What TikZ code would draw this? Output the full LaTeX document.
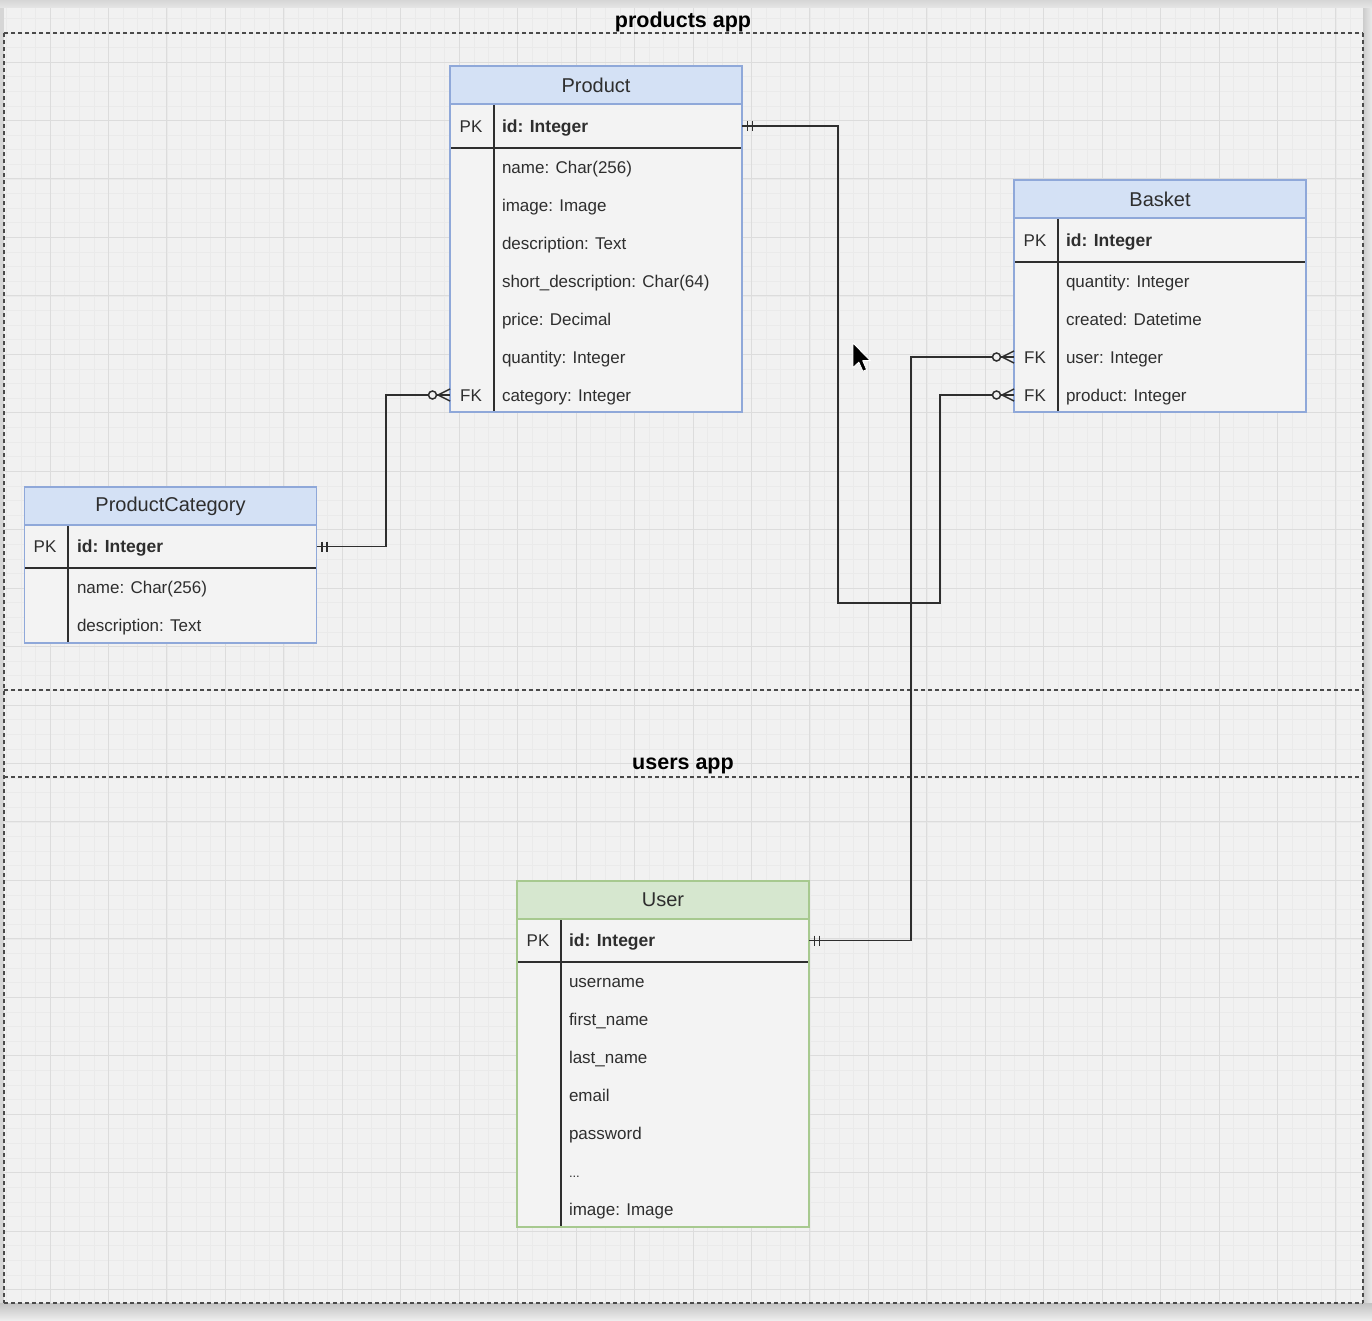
\documentclass[tikz,border=0pt]{standalone}
\usepackage{fontspec}
\setmainfont{Liberation Sans}
\usetikzlibrary{calc}

\definecolor{pagebg}{HTML}{F1F1F1}
\definecolor{gridmaj}{HTML}{DCDCDC}
\definecolor{gridmin}{HTML}{EAEAEA}
\definecolor{inkc}{HTML}{2E2E2E}
\definecolor{dashc}{HTML}{4A4A4A}
\definecolor{bluefill}{HTML}{D4E1F5}
\definecolor{bluestroke}{HTML}{8FA8D9}
\definecolor{greenfill}{HTML}{D6E7CF}
\definecolor{greenstroke}{HTML}{A7C98F}
\definecolor{bodyfill}{HTML}{F3F3F3}

\tikzset{
  every node/.style={inner sep=0pt, outer sep=0pt, text=inkc},
  fieldtxt/.style={anchor=base west, yshift=-6.4pt, font=\fontsize{17}{20}\selectfont},
  keytxt/.style={anchor=base, yshift=-6.4pt, font=\fontsize{17}{20}\selectfont},
  pktxt/.style={anchor=base west, yshift=-6.4pt, font=\fontsize{17.5}{20}\selectfont\bfseries},
  headtxt/.style={font=\fontsize{20}{24}\selectfont},
  apptitle/.style={font=\fontsize{21.5}{24}\selectfont\bfseries, text=black},
  band/.style={minimum width=292pt, minimum height=38pt, anchor=center},
  tableedge/.style={draw=#1, line width=1.3pt},
  divline/.style={draw=inkc, line width=1.2pt},
  conn/.style={draw=inkc, line width=1.5pt},
  appedge/.style={draw=dashc, line width=1.4pt, dash pattern=on 4pt off 3pt},
}

% crow's foot with ring (zero or many), drawn left of a west anchor
\newcommand{\zeroOrMany}[1]{%
  \draw[conn] ([xshift=-12pt]#1) -- ([yshift=6pt]#1)
              ([xshift=-12pt]#1) -- ([yshift=-6pt]#1);
  \draw[conn, fill=pagebg] ([xshift=-17.5pt]#1) circle[radius=4pt];}
% double bar (one and only one), drawn right of an east anchor
\newcommand{\oneOnly}[1]{%
  \draw[conn] ([xshift=5.5pt,yshift=5pt]#1) -- ([xshift=5.5pt,yshift=-5pt]#1)
              ([xshift=10.5pt,yshift=5pt]#1) -- ([xshift=10.5pt,yshift=-5pt]#1);}

\begin{document}
\begin{tikzpicture}[x=1pt, y=-1pt]
\useasboundingbox (0,0) rectangle (1372,1320);

% ---------- canvas ----------
\fill[white!91!black] (0,0) rectangle (1372,1320);
\shade[top color=white!84!black, bottom color=white!92!black] (0,0) rectangle (1372,10);
\shade[left color=white!80!black, right color=white!92!black] (1363,8) rectangle (1372,1320);
\shade[top color=white!76!black, bottom color=white!93!black] (0,1303) rectangle (1372,1320);
\fill[white!84!black] (0,8) rectangle (4,1303);

\begin{scope}
  \clip (4,8) rectangle (1363,1303);
  \fill[pagebg] (4,8) rectangle (1363,1303);
  \foreach \i in {0,...,95} \draw[gridmin, line width=0.5pt] ({-8.45+\i*14.6125},8) -- ++(0,1295);
  \foreach \i in {0,...,90} \draw[gridmin, line width=0.5pt] (4,{3.55+\i*14.6125}) -- ++(1359,0);
  \foreach \i in {0,...,24} \draw[gridmaj, line width=0.9pt] ({-8.45+\i*58.45},8) -- ++(0,1295);
  \foreach \i in {0,...,22} \draw[gridmaj, line width=0.9pt] (4,{3.55+\i*58.45}) -- ++(1359,0);
\end{scope}

% ---------- app containers ----------
\draw[appedge] (4,33) -- (1363,33);
\draw[appedge] (4,690) -- (1363,690);
\draw[appedge] (4,777) -- (1363,777);
\draw[appedge] (4,1303) -- (1363,1303);
\draw[appedge] (4,33) -- (4,1303);
\draw[appedge] (1363,33) -- (1363,1303);
\node[apptitle] (prodApp) at (683,22) {products app};
\node[apptitle] (userApp) at (683,766) {users app};

% ---------- Product ----------
\fill[bodyfill] (450,104) rectangle (742,412);
\node[band, fill=bluefill, headtxt] (prodHead) at (596,85) {Product};
\node[band, minimum height=44pt] (prodPK) at (596,126) {};
\node[band] (prodCatRow) at (596,395) {};
\draw[divline] (prodPK.south west) -- (prodPK.south east);
\draw[divline] (494,104) -- (494,412);
\draw[tableedge=bluestroke] (450,66) rectangle (742,412);
\draw[tableedge=bluestroke] (prodHead.south west) -- (prodHead.south east);
\node[keytxt] (prodPKk) at (471,126) {PK};
\node[pktxt] (prodId) at (502,126) {id: Integer};
\node[fieldtxt] (prodName) at (502,167) {name: Char(256)};
\node[fieldtxt] (prodImage) at (502,205) {image: Image};
\node[fieldtxt] (prodDesc) at (502,243) {description: Text};
\node[fieldtxt] (prodShort) at (502,281) {short\_description: Char(64)};
\node[fieldtxt] (prodPrice) at (502,319) {price: Decimal};
\node[fieldtxt] (prodQty) at (502,357) {quantity: Integer};
\node[keytxt] (prodFKk) at (471,395) {FK};
\node[fieldtxt] (prodCat) at (502,395) {category: Integer};

% ---------- ProductCategory ----------
\fill[bodyfill] (24.5,525) rectangle (316.5,643);
\node[band, fill=bluefill, headtxt] (catHead) at (170.5,506) {ProductCategory};
\node[band, minimum height=43pt] (catPK) at (170.5,546.5) {};
\draw[divline] (catPK.south west) -- (catPK.south east);
\draw[divline] (68,525) -- (68,643);
\draw[tableedge=bluestroke] (24.5,487) rectangle (316.5,643);
\draw[tableedge=bluestroke] (catHead.south west) -- (catHead.south east);
\node[keytxt] (catPKk) at (45,546) {PK};
\node[pktxt] (catId) at (77,546) {id: Integer};
\node[fieldtxt] (catName) at (77,587) {name: Char(256)};
\node[fieldtxt] (catDesc) at (77,625) {description: Text};

% ---------- Basket ----------
\fill[bodyfill] (1014,218) rectangle (1306,412);
\node[band, fill=bluefill, headtxt] (basHead) at (1160,199) {Basket};
\node[band, minimum height=44pt] (basPK) at (1160,240) {};
\node[band] (basUserRow) at (1160,357) {};
\node[band] (basProdRow) at (1160,395) {};
\draw[divline] (basPK.south west) -- (basPK.south east);
\draw[divline] (1058,218) -- (1058,412);
\draw[tableedge=bluestroke] (1014,180) rectangle (1306,412);
\draw[tableedge=bluestroke] (basHead.south west) -- (basHead.south east);
\node[keytxt] (basPKk) at (1035,240) {PK};
\node[pktxt] (basId) at (1066,240) {id: Integer};
\node[fieldtxt] (basQty) at (1066,281) {quantity: Integer};
\node[fieldtxt] (basCreated) at (1066,319) {created: Datetime};
\node[keytxt] (basFKu) at (1035,357) {FK};
\node[fieldtxt] (basUser) at (1066,357) {user: Integer};
\node[keytxt] (basFKp) at (1035,395) {FK};
\node[fieldtxt] (basProd) at (1066,395) {product: Integer};

% ---------- User ----------
\fill[bodyfill] (517,919) rectangle (809,1227);
\node[band, fill=greenfill, headtxt] (userHead) at (663,900) {User};
\node[band, minimum height=43pt] (userPK) at (663,940.5) {};
\draw[divline] (userPK.south west) -- (userPK.south east);
\draw[divline] (561,919) -- (561,1227);
\draw[tableedge=greenstroke] (517,881) rectangle (809,1227);
\draw[tableedge=greenstroke] (userHead.south west) -- (userHead.south east);
\node[keytxt] (userPKk) at (538,940) {PK};
\node[pktxt] (userId) at (569,940) {id: Integer};
\node[fieldtxt] (userName) at (569,981) {username};
\node[fieldtxt] (userFirst) at (569,1019) {first\_name};
\node[fieldtxt] (userLast) at (569,1057) {last\_name};
\node[fieldtxt] (userEmail) at (569,1095) {email};
\node[fieldtxt] (userPass) at (569,1133) {password};
\node[fieldtxt, font=\fontsize{13}{14}\selectfont] (userMore) at (569,1171) {...};
\node[fieldtxt] (userImage) at (569,1209) {image: Image};

% ---------- relations ----------
\coordinate (pb1) at (838,603);
\coordinate (pb2) at (940,395);
\draw[conn] (prodPK.east) -| (pb1) -| (pb2) -- (basProdRow.west);

\coordinate (ub1) at (911,357);
\draw[conn] (userPK.east) -| (ub1) -- (basUserRow.west);

\coordinate (cp1) at (386,395);
\draw[conn] (catPK.east) -| (cp1) -- (prodCatRow.west);

\oneOnly{prodPK.east}
\oneOnly{userPK.east}
\oneOnly{catPK.east}
\zeroOrMany{basProdRow.west}
\zeroOrMany{basUserRow.west}
\zeroOrMany{prodCatRow.west}

% ---------- pointer ----------
\begin{scope}[shift={(853,343)}, scale=1.45]
  \filldraw[fill=black, draw=white, line width=0.9pt, line join=round]
    (0,0) -- (0,17) -- (4,13.2) -- (6.8,19.5) -- (9.4,18.4) -- (6.7,12.2) -- (12,12.2) -- cycle;
\end{scope}
\end{tikzpicture}
\end{document}
